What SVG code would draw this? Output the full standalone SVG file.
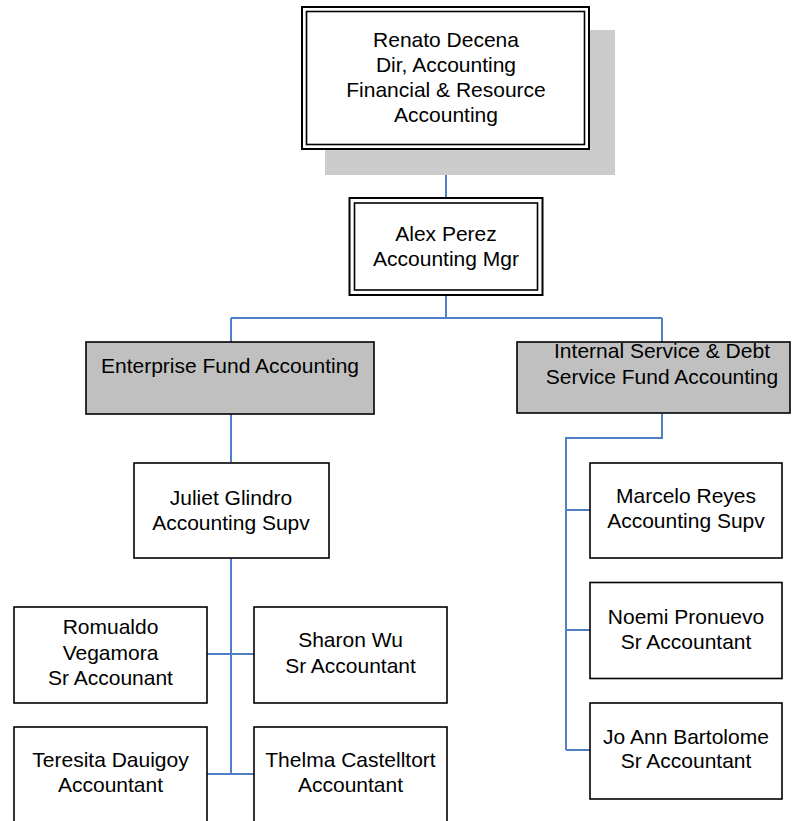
<svg xmlns="http://www.w3.org/2000/svg" width="793" height="821" viewBox="0 0 793 821">
<style>
text{font-family:"Liberation Sans",Arial,sans-serif;font-size:21px;fill:#000;text-anchor:middle}
.box{fill:#fff;stroke:#000;stroke-width:1.6}
.gray{fill:#c0c0c0;stroke:#000;stroke-width:1.6}
.dbl{fill:none;stroke:#000;stroke-width:2}
.dbl2{fill:none;stroke:#000;stroke-width:1.6}
.conn{fill:none;stroke:#4f7fc6;stroke-width:2}
</style>
<rect width="793" height="821" fill="#fff"/>
<g id="connectors">
<path class="conn" d="M446 150V197"/>
<path class="conn" d="M446 295V318M231 318H662M231 318V342M662 318V342"/>
<path class="conn" d="M231 414V462"/>
<path class="conn" d="M231 558V774M207 654H254M207 774H254"/>
<path class="conn" d="M662 414V438H566V750M566 510H590M566 630H590M566 750H590"/>
</g>
<g id="renato">
<rect x="325" y="30" width="290" height="145" fill="#cccccc"/>
<rect x="302" y="7" width="287" height="142" fill="#fff" stroke="none"/>
<rect class="dbl" x="302" y="7" width="287" height="142"/>
<rect class="dbl2" x="306.5" y="11.5" width="278" height="133"/>
<text x="446" y="46.5">Renato Decena</text>
<text x="446" y="71.5">Dir, Accounting</text>
<text x="446" y="96.5">Financial &amp; Resource</text>
<text x="446" y="121.5">Accounting</text>
</g>
<g id="alex">
<rect class="dbl" x="349.5" y="198" width="193" height="97" fill="#fff"/>
<rect class="dbl2" x="354.5" y="203" width="183" height="87"/>
<text x="446" y="241">Alex Perez</text>
<text x="446" y="266">Accounting Mgr</text>
</g>
<g id="enterprise">
<rect class="gray" x="86" y="342" width="288" height="72"/>
<text x="230" y="373">Enterprise Fund Accounting</text>
</g>
<g id="internal">
<rect class="gray" x="517" y="342" width="273" height="71"/>
<text x="662" y="358">Internal Service &amp; Debt</text>
<text x="662" y="384">Service Fund Accounting</text>
</g>
<g id="juliet">
<rect class="box" x="134" y="463" width="195" height="95"/>
<text x="231" y="505">Juliet Glindro</text>
<text x="231" y="530">Accounting Supv</text>
</g>
<g id="romualdo">
<rect class="box" x="14" y="607" width="193" height="96"/>
<text x="110.5" y="634">Romualdo</text>
<text x="110.5" y="660">Vegamora</text>
<text x="110.5" y="685">Sr Accounant</text>
</g>
<g id="sharon">
<rect class="box" x="254" y="607" width="193" height="96"/>
<text x="350.5" y="647">Sharon Wu</text>
<text x="350.5" y="673">Sr Accountant</text>
</g>
<g id="teresita">
<rect class="box" x="14" y="727" width="193" height="96"/>
<text x="110.5" y="767">Teresita Dauigoy</text>
<text x="110.5" y="792">Accountant</text>
</g>
<g id="thelma">
<rect class="box" x="254" y="727" width="193" height="96"/>
<text x="350.5" y="767">Thelma Castelltort</text>
<text x="350.5" y="792">Accountant</text>
</g>
<g id="marcelo">
<rect class="box" x="590" y="463" width="192" height="95"/>
<text x="686" y="503">Marcelo Reyes</text>
<text x="686" y="528">Accounting Supv</text>
</g>
<g id="noemi">
<rect class="box" x="590" y="582.5" width="192" height="96"/>
<text x="686" y="624">Noemi Pronuevo</text>
<text x="686" y="649">Sr Accountant</text>
</g>
<g id="joann">
<rect class="box" x="590" y="703" width="192" height="96"/>
<text x="686" y="744">Jo Ann Bartolome</text>
<text x="686" y="768">Sr Accountant</text>
</g>
</svg>
